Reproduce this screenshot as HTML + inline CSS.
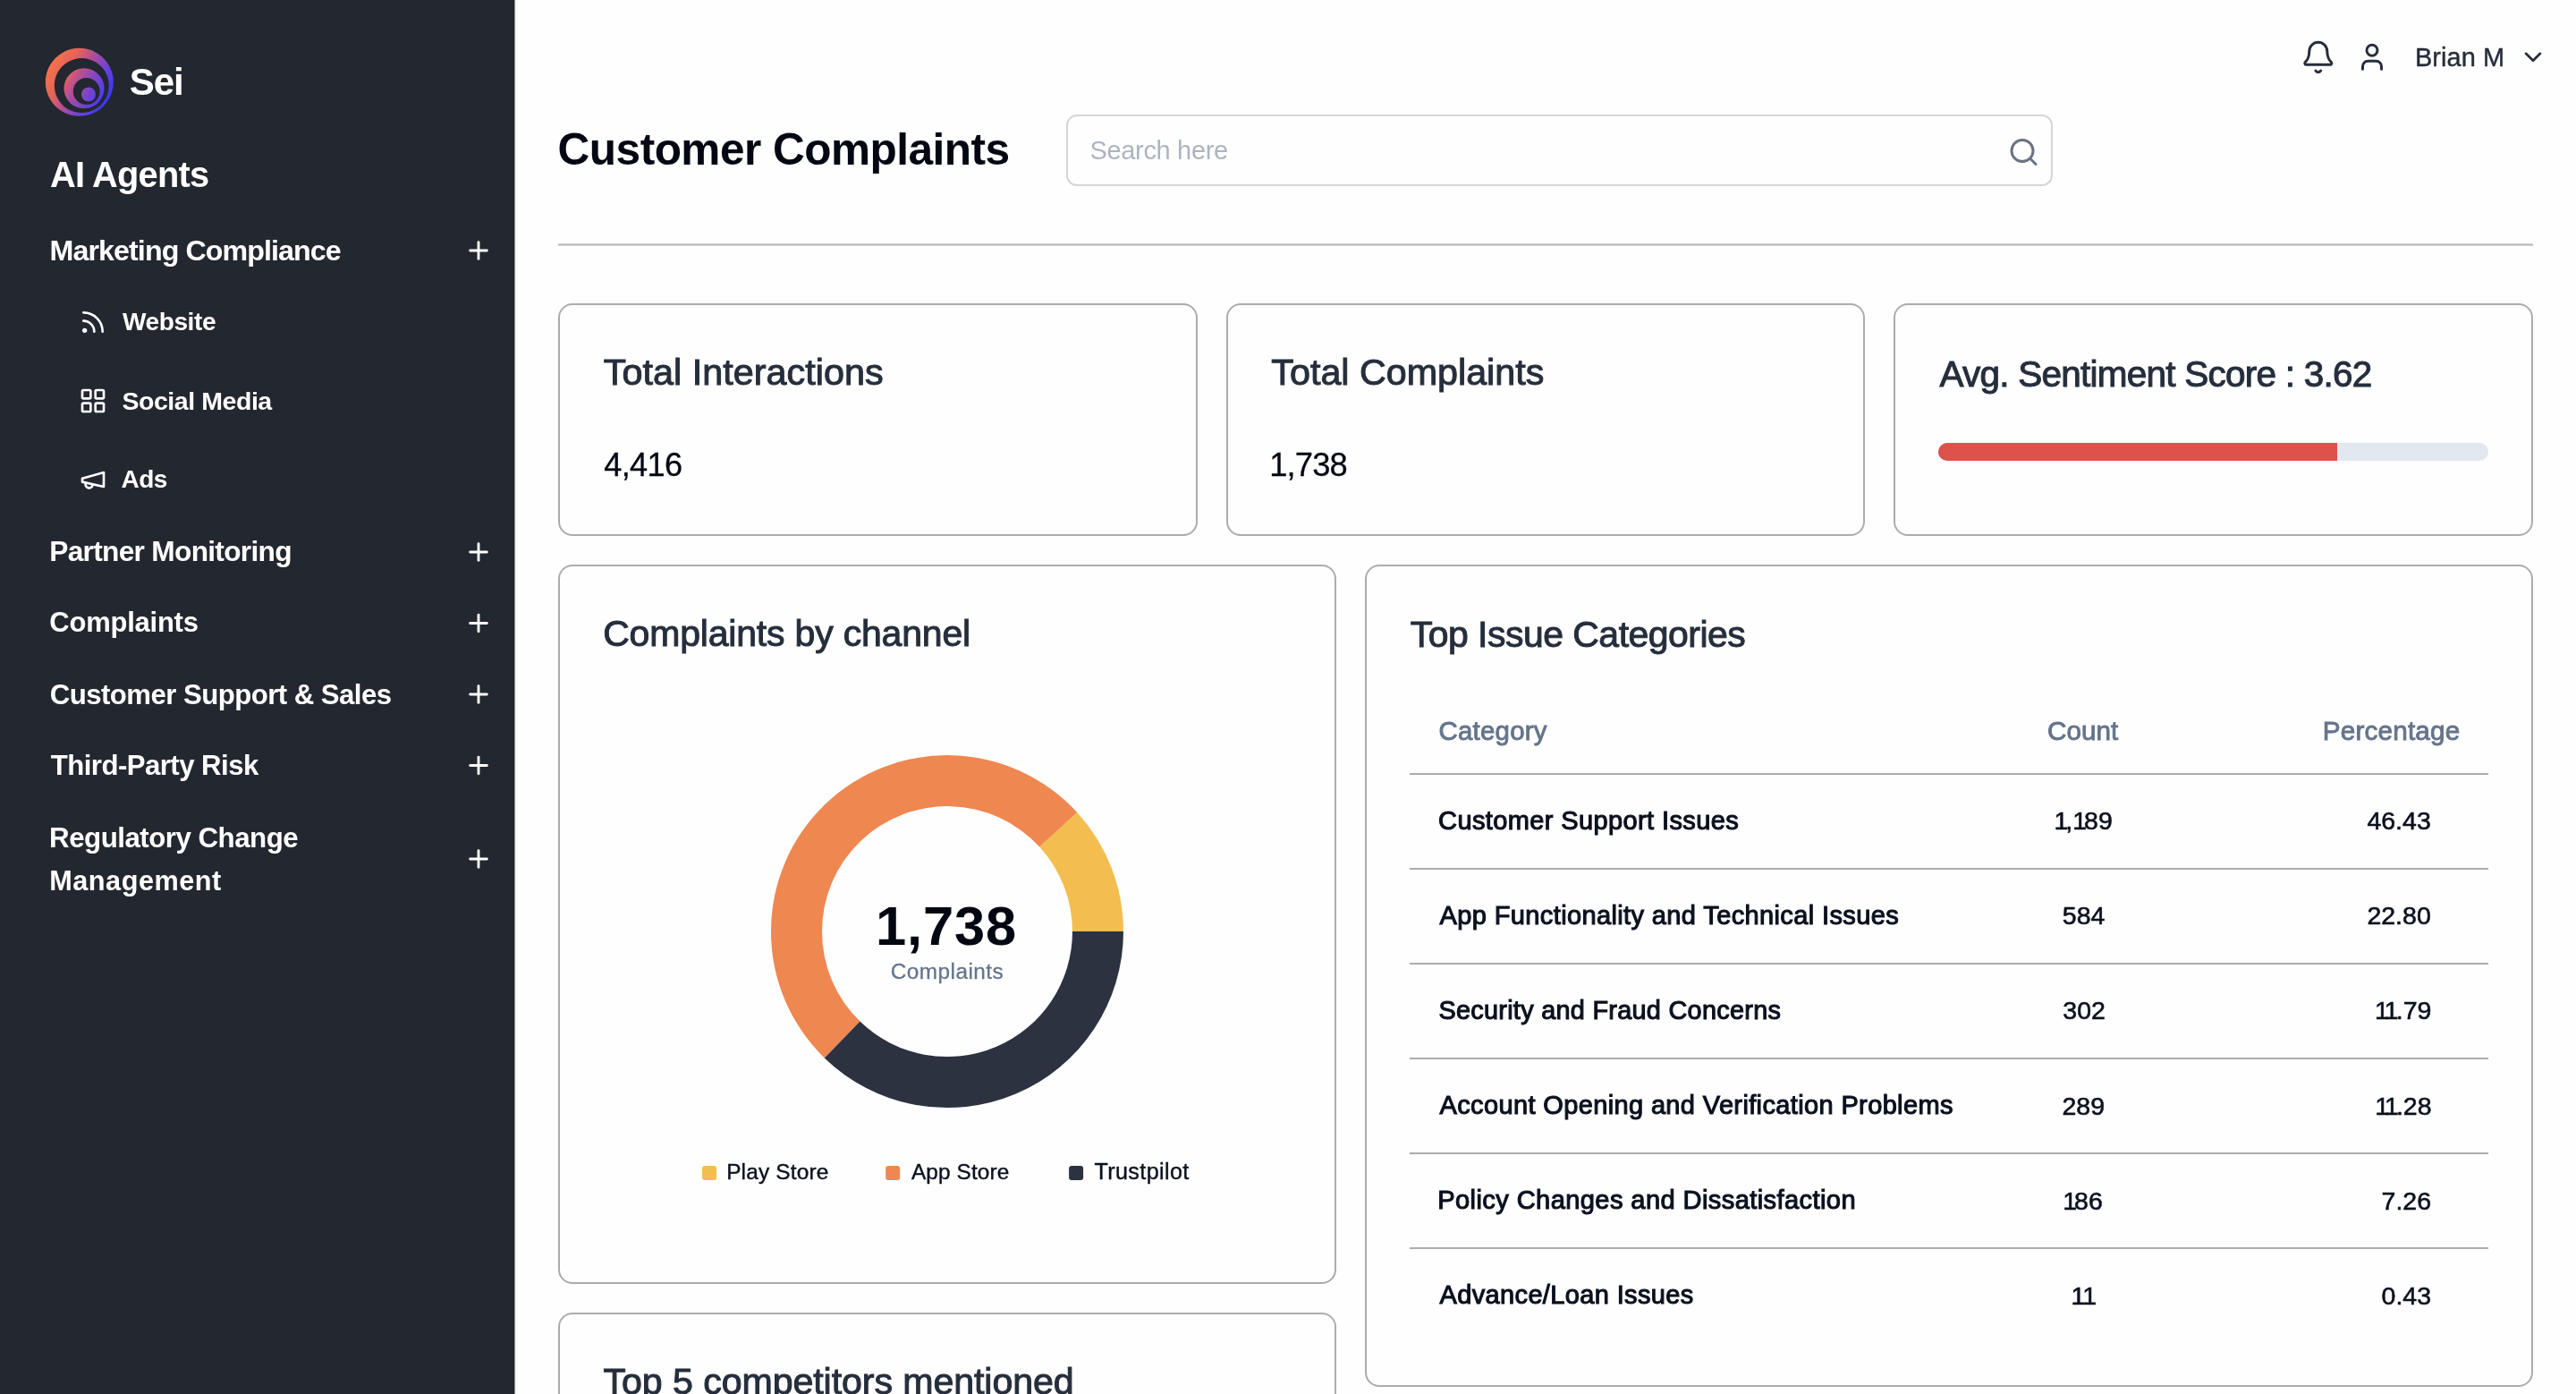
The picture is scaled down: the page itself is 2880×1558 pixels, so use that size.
<!DOCTYPE html>
<html><head><meta charset="utf-8"><title>Customer Complaints</title>
<style>
html,body{margin:0;padding:0;width:2880px;height:1558px;overflow:hidden;background:#fefefe;font-family:"Liberation Sans",sans-serif}
.sb{position:absolute;left:0;top:0;width:574px;height:1558px;background:#23272f;border-right:1px solid #1b1e25;box-shadow:1px 0 0 #96989e,2px 0 0 #eceef1}
.card{position:absolute;box-sizing:border-box;border:2px solid #acacac;border-radius:16px;background:#fefefe}
.t{position:absolute;white-space:nowrap}
.ov{position:absolute;left:0;top:0}
.tl{position:absolute;left:0;top:0;width:2880px;height:1558px;will-change:transform}
@media (max-width:2000px){html{zoom:0.5}}
</style></head><body>
<div class="sb"></div>
<div style="position:absolute;left:624px;top:272px;width:2208px;height:3px;background:linear-gradient(#d3d6dc 0 1px,#b4b4b5 1px 2px,#d3d6dc 2px 3px)"></div>
<div class="card" style="left:1192px;top:128px;width:1103px;height:80px;border-color:#d6d6d6;border-radius:12px"></div>
<div class="card" style="left:624px;top:339px;width:715px;height:260px"></div>
<div class="card" style="left:1371px;top:339px;width:714px;height:260px"></div>
<div class="card" style="left:2117px;top:339px;width:715px;height:260px"></div>
<div style="position:absolute;left:2167px;top:495px;width:615px;height:20px;border-radius:10px;background:#e3e7ee;overflow:hidden"><div style="width:446px;height:20px;background:#de524c"></div></div>
<div class="card" style="left:624px;top:631px;width:870px;height:804px"></div>
<div class="card" style="left:1526px;top:631px;width:1306px;height:919px"></div>
<div class="card" style="left:624px;top:1467px;width:870px;height:400px"></div>
<svg class="ov" width="2880" height="1558" viewBox="0 0 2880 1558"><defs><linearGradient id="lg" gradientUnits="userSpaceOnUse" x1="63" y1="61.5" x2="128" y2="99">
<stop offset="0" stop-color="#f4714a"/><stop offset="0.267" stop-color="#e4625a"/><stop offset="0.4" stop-color="#c45484"/><stop offset="0.533" stop-color="#a24ba6"/><stop offset="0.707" stop-color="#7644cc"/><stop offset="0.84" stop-color="#5a3ee8"/><stop offset="1" stop-color="#3a36f6"/></linearGradient></defs>
<path fill="url(#lg)" fill-rule="evenodd" d="M88.8 53.8a38 38 0 1 0 0.001 0Z M91.3 65.1a30.5 30.5 0 1 1 -0.001 0Z"/>
<path fill="url(#lg)" fill-rule="evenodd" d="M94 76.3a22.5 22.5 0 1 0 0.001 0Z M96.7 87a15 15 0 1 1 -0.001 0Z"/>
<circle cx="99" cy="105.5" r="8" fill="url(#lg)"/><path d="M1256.00 1041.10 A197 197 0 0 0 1204.24 908.01 L1162.22 946.52 A140 140 0 0 1 1199.00 1041.10 Z" fill="#f4bd4f"/><path d="M1204.24 908.01 A197 197 0 1 0 921.78 1182.45 L961.48 1141.55 A140 140 0 1 1 1162.22 946.52 Z" fill="#ef8751"/><path d="M921.78 1182.45 A197 197 0 0 0 1256.00 1041.10 L1199.00 1041.10 A140 140 0 0 1 961.48 1141.55 Z" fill="#2c3240"/><g transform="translate(88 344) scale(1.3333)" fill="none" stroke="#fff" stroke-width="2" stroke-linecap="round" stroke-linejoin="round"><path d="M4 11a9 9 0 0 1 9 9"/><path d="M4 4a16 16 0 0 1 16 16"/><circle cx="5" cy="19" r="1"/></g><g transform="translate(88 432) scale(1.3333)" fill="none" stroke="#fff" stroke-width="2" stroke-linecap="round" stroke-linejoin="round"><rect width="7" height="7" x="3" y="3" rx="1"/><rect width="7" height="7" x="14" y="3" rx="1"/><rect width="7" height="7" x="14" y="14" rx="1"/><rect width="7" height="7" x="3" y="14" rx="1"/></g><g transform="translate(88 520) scale(1.3333)" fill="none" stroke="#fff" stroke-width="2" stroke-linecap="round" stroke-linejoin="round"><path d="m3 11 18-5v12L3 14v-3z"/><path d="M11.6 16.8a3 3 0 1 1-5.8-1.6"/></g><g transform="translate(519 264) scale(1.3333)" fill="none" stroke="#fff" stroke-width="2.15" stroke-linecap="round" stroke-linejoin="round"><path d="M5 12h14"/><path d="M12 5v14"/></g><g transform="translate(519 601) scale(1.3333)" fill="none" stroke="#fff" stroke-width="2.15" stroke-linecap="round" stroke-linejoin="round"><path d="M5 12h14"/><path d="M12 5v14"/></g><g transform="translate(519 680.5) scale(1.3333)" fill="none" stroke="#fff" stroke-width="2.15" stroke-linecap="round" stroke-linejoin="round"><path d="M5 12h14"/><path d="M12 5v14"/></g><g transform="translate(519 760) scale(1.3333)" fill="none" stroke="#fff" stroke-width="2.15" stroke-linecap="round" stroke-linejoin="round"><path d="M5 12h14"/><path d="M12 5v14"/></g><g transform="translate(519 839.5) scale(1.3333)" fill="none" stroke="#fff" stroke-width="2.15" stroke-linecap="round" stroke-linejoin="round"><path d="M5 12h14"/><path d="M12 5v14"/></g><g transform="translate(519 944) scale(1.3333)" fill="none" stroke="#fff" stroke-width="2.15" stroke-linecap="round" stroke-linejoin="round"><path d="M5 12h14"/><path d="M12 5v14"/></g><g transform="translate(2571.8 44) scale(1.6667)" fill="none" stroke="#262d3a" stroke-width="1.8" stroke-linecap="round" stroke-linejoin="round"><path d="M10.268 21a2 2 0 0 0 3.464 0"/><path d="M3.262 15.326A1 1 0 0 0 4 17h16a1 1 0 0 0 .74-1.673C19.41 13.956 18 12.499 18 8A6 6 0 0 0 6 8c0 4.499-1.411 5.956-2.738 7.326"/></g><g transform="translate(2634 45.7) scale(1.5)" fill="none" stroke="#262d3a" stroke-width="2" stroke-linecap="round" stroke-linejoin="round"><path d="M19 21v-2a4 4 0 0 0-4-4H9a4 4 0 0 0-4 4v2"/><circle cx="12" cy="7" r="4"/></g><g transform="translate(2816 47.8) scale(1.3333)" fill="none" stroke="#262d3a" stroke-width="2" stroke-linecap="round" stroke-linejoin="round"><path d="m6 9 6 6 6-6"/></g><g transform="translate(2244.5 152) scale(1.5)" fill="none" stroke="#6b7280" stroke-width="2" stroke-linecap="round" stroke-linejoin="round"><circle cx="11" cy="11" r="8"/><path d="m21 21-4.3-4.3"/></g><rect x="785" y="1303" width="16" height="16" rx="3" fill="#f4bd4f"/><rect x="990.2" y="1303" width="16" height="16" rx="3" fill="#ef8751"/><rect x="1195.1" y="1303" width="16" height="16" rx="3" fill="#2c3240"/><rect x="1576" y="864" width="1206" height="2" fill="#acacac"/><rect x="1576" y="970" width="1206" height="2" fill="#acacac"/><rect x="1576" y="1076" width="1206" height="2" fill="#acacac"/><rect x="1576" y="1182" width="1206" height="2" fill="#acacac"/><rect x="1576" y="1288" width="1206" height="2" fill="#acacac"/><rect x="1576" y="1394" width="1206" height="2" fill="#acacac"/></svg>
<div class="tl"><div class="t" style="left:144.66px;top:71.18px;font-size:41.97px;line-height:41.97px;color:#ffffff;font-weight:700;letter-spacing:-1px">Sei</div><div class="t" style="left:56px;top:176.22px;font-size:39.79px;line-height:39.79px;color:#ffffff;font-weight:700;letter-spacing:-0.76px">AI Agents</div><div class="t" style="left:55.57px;top:264.13px;font-size:32.21px;line-height:32.21px;color:#ffffff;font-weight:700;letter-spacing:-0.92px">Marketing Compliance</div><div class="t" style="left:137px;top:346.25px;font-size:28.06px;line-height:28.06px;color:#ffffff;font-weight:700;letter-spacing:-0.42px">Website</div><div class="t" style="left:136.43px;top:433.67px;font-size:28.51px;line-height:28.51px;color:#ffffff;font-weight:700;letter-spacing:-0.44px">Social Media</div><div class="t" style="left:135.54px;top:521.88px;font-size:28.02px;line-height:28.02px;color:#ffffff;font-weight:700;letter-spacing:-0.53px">Ads</div><div class="t" style="left:55.3px;top:600.9px;font-size:31.66px;line-height:31.66px;color:#ffffff;font-weight:700;letter-spacing:-0.7px">Partner Monitoring</div><div class="t" style="left:55.36px;top:680.71px;font-size:30.94px;line-height:30.94px;color:#ffffff;font-weight:700;letter-spacing:-0.21px">Complaints</div><div class="t" style="left:55.75px;top:760.92px;font-size:31.16px;line-height:31.16px;color:#ffffff;font-weight:700;letter-spacing:-0.54px">Customer Support &amp; Sales</div><div class="t" style="left:56.69px;top:840.24px;font-size:31.14px;line-height:31.14px;color:#ffffff;font-weight:700;letter-spacing:-0.52px">Third-Party Risk</div><div class="t" style="left:55.12px;top:920.54px;font-size:31.26px;line-height:31.26px;color:#ffffff;font-weight:700;letter-spacing:-0.5px">Regulatory Change</div><div class="t" style="left:55.16px;top:969.04px;font-size:30.67px;line-height:30.67px;color:#ffffff;font-weight:700;letter-spacing:0.53px">Management</div><div class="t" style="left:623.62px;top:142.64px;font-size:49.57px;line-height:49.57px;color:#030712;font-weight:700;letter-spacing:-0.53px">Customer Complaints</div><div class="t" style="left:1218.44px;top:153.66px;font-size:28.99px;line-height:28.99px;color:#adb4c0;letter-spacing:-0.32px">Search here</div><div class="t" style="left:2699.89px;top:49.53px;font-size:28.91px;line-height:28.91px;color:#262d3a;letter-spacing:0.11px;-webkit-text-stroke:0.4px #262d3a">Brian M</div><div class="t" style="left:674.87px;top:395.76px;font-size:41.39px;line-height:41.39px;color:#262e3c;-webkit-text-stroke:1.0px #262e3c">Total Interactions</div><div class="t" style="left:675.23px;top:502.49px;font-size:36.16px;line-height:36.16px;color:#030712;letter-spacing:-0.67px;-webkit-text-stroke:0.3px #030712">4,416</div><div class="t" style="left:1421.37px;top:396.08px;font-size:41.25px;line-height:41.25px;color:#262e3c;-webkit-text-stroke:1.0px #262e3c">Total Complaints</div><div class="t" style="left:1419.31px;top:502.24px;font-size:36.33px;line-height:36.33px;color:#030712;letter-spacing:-0.89px;-webkit-text-stroke:0.3px #030712">1,738</div><div class="t" style="left:2168.6px;top:397.68px;font-size:40.54px;line-height:40.54px;color:#262e3c;letter-spacing:-0.78px;-webkit-text-stroke:1.0px #262e3c">Avg. Sentiment Score : 3.62</div><div class="t" style="left:674.15px;top:688.2px;font-size:40.99px;line-height:40.99px;color:#262e3c;letter-spacing:-0.18px;-webkit-text-stroke:1.0px #262e3c">Complaints by channel</div><div class="t" style="left:978.91px;top:1003.95px;font-size:61.49px;line-height:61.49px;color:#030712;font-weight:700;letter-spacing:0.88px">1,738</div><div class="t" style="left:995.63px;top:1073.56px;font-size:24.38px;line-height:24.38px;color:#64748b;letter-spacing:0.47px;-webkit-text-stroke:0.3px #64748b">Complaints</div><div class="t" style="left:812.14px;top:1297.99px;font-size:24.46px;line-height:24.46px;color:#0b111e;letter-spacing:0.17px;-webkit-text-stroke:0.4px #0b111e">Play Store</div><div class="t" style="left:1019px;top:1298.09px;font-size:24.35px;line-height:24.35px;color:#0b111e;letter-spacing:0.12px;-webkit-text-stroke:0.4px #0b111e">App Store</div><div class="t" style="left:1223.4px;top:1297.48px;font-size:25.07px;line-height:25.07px;color:#0b111e;letter-spacing:0.42px;-webkit-text-stroke:0.4px #0b111e">Trustpilot</div><div class="t" style="left:1576.78px;top:688.66px;font-size:40.92px;line-height:40.92px;color:#262e3c;letter-spacing:-0.49px;-webkit-text-stroke:1.0px #262e3c">Top Issue Categories</div><div class="t" style="left:1608.48px;top:801.91px;font-size:29.4px;line-height:29.4px;color:#64748b;letter-spacing:0.25px;-webkit-text-stroke:0.9px #64748b">Category</div><div class="t" style="left:2289.07px;top:802.25px;font-size:29.6px;line-height:29.6px;color:#64748b;letter-spacing:0.06px;-webkit-text-stroke:0.9px #64748b">Count</div><div class="t" style="left:2596.78px;top:802.17px;font-size:29.68px;line-height:29.68px;color:#64748b;letter-spacing:0.19px;-webkit-text-stroke:0.9px #64748b">Percentage</div><div class="t" style="left:1608.1px;top:902.85px;font-size:29.01px;line-height:29.01px;color:#0b111e;letter-spacing:0.38px;-webkit-text-stroke:1.1px #0b111e">Customer Support Issues</div><div class="t" style="left:2296.4px;top:903.27px;font-size:28.5px;line-height:28.5px;color:#0b111e;-webkit-text-stroke:0.6px #0b111e"><span style="letter-spacing:-3px">1</span>,<span style="letter-spacing:-3px">1</span>89</div><div class="t" style="left:2646.41px;top:903.27px;font-size:28.5px;line-height:28.5px;color:#0b111e;-webkit-text-stroke:0.6px #0b111e">46.43</div><div class="t" style="left:1609.55px;top:1008.93px;font-size:29.02px;line-height:29.02px;color:#0b111e;letter-spacing:0.37px;-webkit-text-stroke:1.1px #0b111e">App Functionality and Technical Issues</div><div class="t" style="left:2305.83px;top:1009.37px;font-size:28.5px;line-height:28.5px;color:#0b111e;-webkit-text-stroke:0.6px #0b111e">584</div><div class="t" style="left:2646.41px;top:1009.37px;font-size:28.5px;line-height:28.5px;color:#0b111e;-webkit-text-stroke:0.6px #0b111e">22.80</div><div class="t" style="left:1608.4px;top:1115.19px;font-size:28.84px;line-height:28.84px;color:#0b111e;letter-spacing:0.29px;-webkit-text-stroke:1.1px #0b111e">Security and Fraud Concerns</div><div class="t" style="left:2306.3px;top:1115.47px;font-size:28.5px;line-height:28.5px;color:#0b111e;-webkit-text-stroke:0.6px #0b111e">302</div><div class="t" style="left:2655.11px;top:1115.47px;font-size:28.5px;line-height:28.5px;color:#0b111e;-webkit-text-stroke:0.6px #0b111e"><span style="letter-spacing:-3px">1</span><span style="letter-spacing:-3px">1</span>.79</div><div class="t" style="left:1609.55px;top:1221.16px;font-size:28.99px;line-height:28.99px;color:#0b111e;letter-spacing:0.37px;-webkit-text-stroke:1.1px #0b111e">Account Opening and Verification Problems</div><div class="t" style="left:2305.47px;top:1221.57px;font-size:28.5px;line-height:28.5px;color:#0b111e;-webkit-text-stroke:0.6px #0b111e">289</div><div class="t" style="left:2655.33px;top:1221.57px;font-size:28.5px;line-height:28.5px;color:#0b111e;-webkit-text-stroke:0.6px #0b111e"><span style="letter-spacing:-3px">1</span><span style="letter-spacing:-3px">1</span>.28</div><div class="t" style="left:1607.22px;top:1327.18px;font-size:29.08px;line-height:29.08px;color:#0b111e;letter-spacing:0.4px;-webkit-text-stroke:1.1px #0b111e">Policy Changes and Dissatisfaction</div><div class="t" style="left:2306.24px;top:1327.67px;font-size:28.5px;line-height:28.5px;color:#0b111e;-webkit-text-stroke:0.6px #0b111e"><span style="letter-spacing:-3px">1</span>86</div><div class="t" style="left:2662.56px;top:1327.67px;font-size:28.5px;line-height:28.5px;color:#0b111e;-webkit-text-stroke:0.6px #0b111e">7.26</div><div class="t" style="left:1609.55px;top:1433.37px;font-size:28.98px;line-height:28.98px;color:#0b111e;letter-spacing:0.37px;-webkit-text-stroke:1.1px #0b111e">Advance/Loan Issues</div><div class="t" style="left:2315.47px;top:1433.77px;font-size:28.5px;line-height:28.5px;color:#0b111e;-webkit-text-stroke:0.6px #0b111e"><span style="letter-spacing:-3px">1</span>1</div><div class="t" style="left:2662.56px;top:1433.77px;font-size:28.5px;line-height:28.5px;color:#0b111e;-webkit-text-stroke:0.6px #0b111e">0.43</div><div class="t" style="left:674.58px;top:1523.76px;font-size:41.16px;line-height:41.16px;color:#262e3c;letter-spacing:-0.09px;-webkit-text-stroke:1.0px #262e3c">Top 5 competitors mentioned</div></div>
</body></html>
